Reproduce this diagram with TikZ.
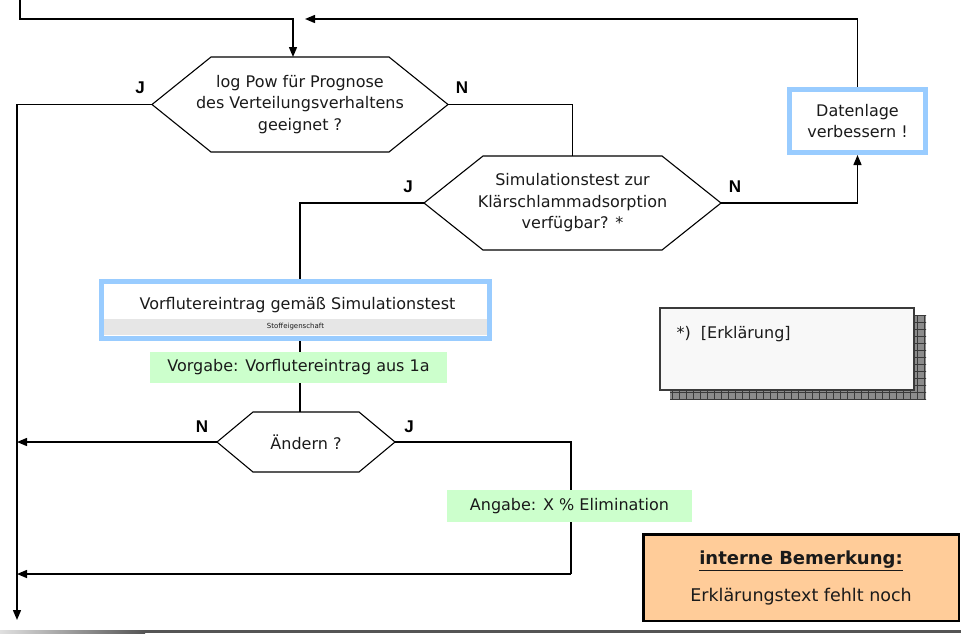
\documentclass[tikz,border=0pt]{standalone}
\usepackage{fontspec}
\setmainfont{DejaVu Sans}
\newfontfamily\lblfont{Liberation Sans}
\usetikzlibrary{arrows.meta,calc}
\pgfdeclarelayer{bg}
\pgfsetlayers{bg,main}

\definecolor{boxblue}{HTML}{99CCFF}
\definecolor{notegreen}{HTML}{CCFFCC}
\definecolor{noteorange}{HTML}{FFCC99}
\definecolor{stripgray}{HTML}{E6E6E6}
\definecolor{papergray}{HTML}{F8F8F8}
\definecolor{shadowgray}{HTML}{8C8C8C}
\definecolor{gridgray}{HTML}{3A3A3A}
\definecolor{inkgray}{HTML}{1A1A1A}
\definecolor{barlight}{HTML}{E0E0E0}
\definecolor{bardark}{HTML}{555555}

\tikzset{
  txt/.style={font=\fontsize{16}{21.5}\selectfont, text=inkgray},
  conn/.style={line width=1.4pt, -{Triangle[length=10pt,width=8pt]}},
  plainline/.style={line width=1.4pt},
  hexline/.style={line width=1.1pt, line join=miter},
  decision/.style 2 args={txt, align=center, inner sep=0pt, outer sep=0pt,
    minimum width=#1pt, minimum height=#2pt},
  bluebox/.style={txt, draw=boxblue, line width=5pt, fill=white, align=center, inner sep=0pt},
  greennote/.style={txt, fill=notegreen, inner sep=0pt},
  lbl/.style={font=\lblfont\bfseries\fontsize{17}{19}\selectfont},
}

% hexagonal decision outline around a node
\newcommand\hexoutline[2]{%
  \draw[hexline] (#1.west) -- ([xshift=#2]#1.north west) -- ([xshift=-#2]#1.north east)
    -- (#1.east) -- ([xshift=-#2]#1.south east) -- ([xshift=#2]#1.south west) -- cycle;}

\begin{document}
\begin{tikzpicture}[x=1pt,y=-1pt]
\useasboundingbox (0,0) rectangle (961,633);

% decisions
\node[decision={296}{95}] (h1) at (300,104.5) {log Pow für Prognose\\des Verteilungsverhaltens\\geeignet ?};
\hexoutline{h1}{59pt}
\node[decision={297}{94}] (h2) at (572.5,203) {Simulationstest zur\\Klärschlammadsorption\\verfügbar? *};
\hexoutline{h2}{59pt}
\node[decision={178}{60}] (h3) at (306,442) {Ändern ?};
\hexoutline{h3}{36pt}

% process boxes
\node[bluebox, minimum width=136pt, minimum height=63pt] (dat) at (857.5,121) {Datenlage\\verbessern !};
\node[bluebox, minimum width=388pt, minimum height=57pt] (vf) at (295.5,310) {};
\node[txt] (vftitle) at (297.5,305) {Vorflutereintrag gemäß Simulationstest};
\node[fill=stripgray, minimum width=383pt, minimum height=16pt, inner sep=0pt,
      font=\fontsize{7}{8}\selectfont, text=inkgray] (vfprop) at (295.5,327) {Stoffeigenschaft};

% green annotations
\node[greennote, minimum width=297pt, minimum height=31pt] (vorgabe) at (298.5,367.5) {Vorgabe: Vorflutereintrag aus 1a};
\node[greennote, minimum width=245pt, minimum height=32pt] (angabe) at (569.5,506) {Angabe: X \% Elimination};

% footnote box with hatched shadow
\begin{scope}
  \clip (670,315) rectangle (926,399);
  \fill[shadowgray] (670,315) rectangle (926,399);
  \draw[gridgray, line width=0.7pt] (663,308) grid[step=7pt] (933,406);
\end{scope}
\node[draw=gridgray, line width=2pt, fill=papergray, minimum width=254pt, minimum height=82pt, inner sep=0pt] (erk) at (787,349) {};
\node[txt, anchor=west] (erktxt) at (673,334) {*)\ \ [Erklärung]};

% internal remark
\node[draw=black, line width=2.5pt, fill=noteorange, minimum width=315.5pt, minimum height=86.5pt, inner sep=0pt] (bem) at (801,577.5) {};
\node[txt, font=\bfseries\fontsize{18}{20}\selectfont] (bemhead) at (801,561) {\underline{interne Bemerkung:}};
\node[txt, font=\fontsize{17.5}{20}\selectfont] (bemtxt) at (801,597) {Erklärungstext fehlt noch};

% branch labels
\node[lbl] (j1) at (140,88) {J};
\node[lbl] (n1) at (462,88) {N};
\node[lbl] (j2) at (408,187) {J};
\node[lbl] (n2) at (735,187) {N};
\node[lbl] (n3) at (202,427) {N};
\node[lbl] (j3) at (409,427) {J};

% free ends and bends of the connectors
\coordinate (topstart) at (20,0);
\coordinate (topjoin) at (293,19);
\coordinate (retend) at (305,19);
\coordinate (exit) at (17,620);
\coordinate (spine) at (300,0);
\coordinate (jcorner) at (571,574);

\begin{pgfonlayer}{bg}
  \draw[conn] (topstart) |- (topjoin) -- (topjoin |- h1.north);
  \draw[conn] (dat.north) |- (retend);
  \draw[conn] (h1.west) -| (exit);
  \draw[plainline] (h1.east) -| (h2.north);
  \draw[plainline] (h2.west) -| (spine |- vf.north);
  \draw[conn] (h2.east) -| (dat.south);
  \draw[plainline] (spine |- vf.south) -- (spine |- h3.north);
  \draw[conn] (h3.west) -- (h3.west -| exit);
  \draw[plainline] (h3.east) -| (jcorner);
  \draw[conn] (jcorner) -- (jcorner -| exit);
\end{pgfonlayer}

% page foot rule
\shade[left color=barlight, right color=bardark] (0,630) rectangle (145,633);
\fill[bardark] (145,630) rectangle (961,633);
\end{tikzpicture}
\end{document}
